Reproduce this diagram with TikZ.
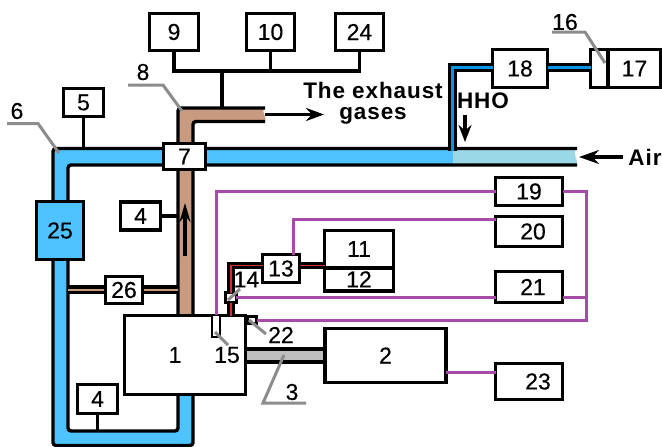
\documentclass[tikz,border=0pt]{standalone}
\usepackage{fontspec}
\setmainfont{Liberation Sans}
\newfontfamily\numfont[FakeBold=0.3]{Liberation Sans}
\newfontfamily\gasfont[LetterSpace=4,BoldFont={Liberation Sans Bold}]{Liberation Sans}
\usetikzlibrary{arrows.meta}
\definecolor{pipeblue}{HTML}{4FC3FF}
\definecolor{pipelight}{HTML}{9AD8E8}
\definecolor{pipebrown}{HTML}{C89A80}
\definecolor{thinblue}{HTML}{0096E6}
\definecolor{tubered}{HTML}{D03030}
\definecolor{wirepurple}{HTML}{A64CA8}
\definecolor{leadergray}{HTML}{8C8C8C}
\definecolor{shaftgray}{HTML}{BEBEBE}

\begin{document}
\begin{tikzpicture}[x=1pt,y=-1pt,>={Stealth[length=18pt,width=13pt]},line cap=butt,
  numbox/.style={draw,fill=white,line width=3.4pt,inner sep=0pt,outer sep=0pt,
    font=\numfont\fontsize{23}{26}\selectfont},
  tag/.style={inner sep=0pt,font=\numfont\fontsize{23}{26}\selectfont},
  bigtext/.style={inner sep=0pt,align=center,font=\gasfont\bfseries\fontsize{22.5}{21}\selectfont},
  conn/.style={line width=3.2pt},
  pipeline/.style={line width=3.4pt,rounded corners=3pt},
  purpleline/.style={wirepurple,line width=3pt},
  leader/.style={leadergray,line width=3pt},
  redtube/.style={line width=3pt,double=tubered,double distance=1.6pt},
  bluetube/.style={line width=3pt,double=thinblue,double distance=3pt}]
\useasboundingbox (0,0) rectangle (662,447);
\fill[white] (0,0) rectangle (662,447);

\fill[pipeblue] (53,200) -- (53,148.5) -- (453,148.5) -- (453,165) -- (68,165) -- (68,200) -- cycle;
\fill[pipelight] (453,148.5) -- (577,148.5) .. controls (571,154) and (579,160) .. (577,165) -- (453,165) -- cycle;
\draw[pipeline] (53,205) -- (53,148.5) -- (577,148.5);
\draw[pipeline] (68,205) -- (68,165) -- (577,165);
\draw[pipeline,fill=pipeblue] (53,255) -- (53,445.5) -- (193,445.5) -- (193,390) -- (178,390) -- (178,431) -- (68,431) -- (68,255) -- cycle;

\fill[pipebrown] (178,320) -- (178,108) -- (265,108) .. controls (260,113) and (268,117) .. (265,121.5) -- (193,121.5) -- (193,320) -- cycle;
\draw[pipeline] (178,320) -- (178,108) -- (265,108);
\draw[pipeline] (193,320) -- (193,121.5) -- (265,121.5);

\fill[shaftgray] (246,349) rectangle (324,362);
\draw[conn] (246,349) -- (324,349);
\draw[conn] (246,362) -- (324,362);

\fill[pipebrown] (68,287) rectangle (178,293);
\draw[line width=3.4pt] (68,286.8) -- (178,286.8);
\draw[line width=2.5pt] (68,292.7) -- (178,292.7);

\node[numbox,minimum width=49pt,minimum height=37pt] (b9) at (174,32) {9};
\node[numbox,minimum width=48pt,minimum height=37pt] (b10) at (270.5,32) {10};
\node[numbox,minimum width=48pt,minimum height=37pt] (b24) at (359.5,32) {24};
\node[numbox,minimum width=40pt,minimum height=28pt] (b5) at (83.5,102.5) {5};
\node[numbox,minimum width=42pt,minimum height=26pt] (b7) at (184.5,156.5) {7};
\node[numbox,minimum width=40pt,minimum height=28pt] (b4a) at (140.5,216) {4};
\node[numbox,fill=pipeblue,minimum width=47pt,minimum height=58pt] (b25) at (60,230.5) {25};
\node[numbox,minimum width=37pt,minimum height=27pt] (b26) at (124,290) {26};
\node[numbox,minimum width=121pt,minimum height=79pt] (b1) at (185,355) {1\hspace*{20pt}};
\node[numbox,minimum width=40pt,minimum height=29pt] (b4b) at (97.5,399) {4};
\node[numbox,minimum width=121pt,minimum height=54pt] (b2) at (385.5,355.5) {2};
\node[numbox,minimum width=37pt,minimum height=28pt] (b13) at (281,268.5) {13};
\node[numbox,minimum width=69pt,minimum height=37.5pt] (b11) at (359,249) {11};
\node[numbox,minimum width=69pt,minimum height=23pt] (b12) at (359,279.3) {12};
\node[numbox,minimum width=55pt,minimum height=38pt] (b18) at (520,68.5) {18};
\node[numbox,minimum width=17pt,minimum height=38pt] (b16) at (599,68.5) {};
\node[numbox,minimum width=52pt,minimum height=38pt] (b17) at (634.5,68.5) {17};
\node[numbox,minimum width=67pt,minimum height=28pt] (b19) at (529,191.5) {19};
\node[numbox,minimum width=67pt,minimum height=30pt] (b20) at (529,231.5) {\hspace*{8pt}20};
\node[numbox,minimum width=67pt,minimum height=31pt] (b21) at (529,287) {\hspace*{8pt}21};
\node[numbox,minimum width=67pt,minimum height=36pt] (b23) at (529,381.5) {\hspace*{18pt}23};
\node[numbox,line width=2.8pt,minimum width=8pt,minimum height=22pt] (b15) at (216,326) {};
\node[numbox,minimum width=10.5pt,minimum height=10pt] (b14) at (231,297.5) {};
\node[numbox,minimum width=9pt,minimum height=7pt] (b22) at (252,320) {};

\coordinate (bus) at (222,71);
\coordinate (pipetop) at (222,108);
\coordinate (pipeside) at (178,216);
\coordinate (pipelow) at (97.5,431);
\coordinate (pipefive) at (83.5,148.5);
\draw[conn] (b9.south) |- (bus) -| (b24.south);
\draw[conn] (b10.south) -- (b10.south |- bus);
\draw[conn] (bus) -- (pipetop);
\draw[conn] (b5.south) -- (pipefive);
\draw[conn] (b4a.east) -- (pipeside);
\draw[conn] (b4b.south) -- (pipelow);

\coordinate (gasin) at (265,114.5);
\coordinate (gasout) at (324,114.5);
\draw[->,conn] (gasin) -- (gasout);
\coordinate (flowfrom) at (185,256);
\coordinate (flowto) at (185,203);
\draw[->,conn,>={Stealth[length=19pt,width=11pt]}] (flowfrom) -- (flowto);
\coordinate (hhofrom) at (465,115);
\coordinate (hhoto) at (465,142);
\draw[->,conn,>={Stealth[length=17pt,width=13pt]}] (hhofrom) -- (hhoto);
\coordinate (airfrom) at (623,157);
\coordinate (airto) at (579,157);
\draw[->,conn,>={Stealth[length=20pt,width=14pt]}] (airfrom) -- (airto);

\coordinate (pipeair) at (452,151);
\draw[bluetube] ([yshift=1pt]b18.west) -| (pipeair);
\draw[bluetube] ([yshift=1pt]b18.east) -- ([yshift=1pt]b16.west);
\draw[redtube] ([yshift=3pt]b13.west) -| (b14.north);
\draw[redtube] ([yshift=3pt]b13.east) -- ([yshift=3pt]b13.east -| b11.south west);
\draw[redtube] (b14.south) -- (b14.south |- b1.north);

\coordinate (trunk) at (586,320);
\draw[purpleline] (b19.west) -| (b15.north);
\draw[purpleline] ([yshift=12.5pt]b20.west) -| ([xshift=12pt]b13.north);
\draw[purpleline] (b14.east) -- (b14.east -| b21.west);
\draw[purpleline] (b14.east -| b21.east) -- (b14.east -| trunk);
\draw[purpleline] (b19.east) -| (trunk) -- (b22.east);
\draw[purpleline] ([yshift=9pt]b23.west) -- ([yshift=9pt]b23.west -| b2.east);

\node[tag] (tag6) at (17,111) {6};
\node[tag] (tag8) at (143,72) {8};
\node[tag] (tag16) at (565,22) {16};
\node[tag] (tag14) at (246.5,279.5) {14};
\node[tag] (tag15) at (227,355) {15};
\node[tag] (tag22) at (281,335) {22};
\node[tag] (tag3) at (292,392) {3};
\draw[leader] (7,123.5) -- (38,123.5) -- (59,153);
\draw[leader] (128,85) -- (163,85) -- (182,111);
\draw[leader] (552,32) -- (585,32) -- (605,63);
\draw[leader] (228,300) -- (240,289);
\draw[leader] (215,332) -- (228,345);
\draw[leader] (249,320) -- (266,334);
\draw[leader] (284,355) -- (263,403) -- (306,403);

\node[bigtext] (gases) at (373,103.5) {The exhaust\\gases};
\node[bigtext] (hho) at (483,101) {HHO};
\node[bigtext] (air) at (645,157) {Air};
\end{tikzpicture}
\end{document}
